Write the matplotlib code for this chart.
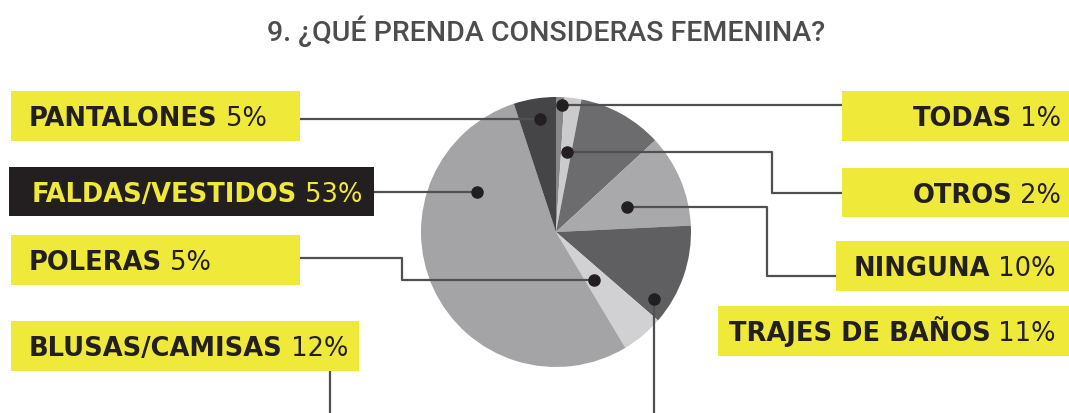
import matplotlib
matplotlib.use("Agg")
import matplotlib.pyplot as plt
import matplotlib.patches as mpatches

# data (clockwise from 12 o'clock)
categories = ["TODAS", "OTROS", "NINGUNA", "TRAJES DE BAÑOS",
              "BLUSAS/CAMISAS", "POLERAS", "FALDAS/VESTIDOS", "PANTALONES"]
values = [1, 2, 10, 11, 12, 5, 53, 5]
slice_colors = ["#88888a", "#cbcbcd", "#6c6c6e", "#a9a9ab",
                "#5f5f61", "#d1d1d3", "#a4a4a6", "#454547"]
title = "9. ¿QUÉ PRENDA CONSIDERAS FEMENINA?"

# layout: label boxes (x0, y0, x1, y1), text anchor x, side
boxes = {
    "PANTALONES":      ((11, 92, 300, 142), 29, "left"),
    "FALDAS/VESTIDOS": ((9, 168, 374, 217), 32, "left"),
    "POLERAS":         ((11, 236, 300, 286), 29, "left"),
    "BLUSAS/CAMISAS":  ((11, 322, 359, 372), 29, "left"),
    "TODAS":           ((842, 92, 1069, 142), 1061, "right"),
    "OTROS":           ((842, 169, 1069, 218), 1061, "right"),
    "NINGUNA":         ((836, 242, 1069, 292), 1056, "right"),
    "TRAJES DE BAÑOS": ((718, 307, 1069, 357), 1056, "right"),
}
# leader lines (polyline points, dot at the last point or not)
leaders = [
    ([(300, 120), (540, 120)], True),
    ([(374, 193), (477, 193)], True),
    ([(300, 259), (402, 259), (402, 281), (594, 281)], True),
    ([(330, 372), (330, 414)], False),
    ([(842, 106), (562, 106)], True),
    ([(842, 194), (772, 194), (772, 153), (567, 153)], True),
    ([(836, 277), (767, 277), (767, 208), (627, 208)], True),
    ([(654, 414), (654, 300)], True),
]

YELLOW = "#efe93a"
DARK = "#231f20"
LINE = "#505050"
FS = 18.5

fig = plt.figure(figsize=(10.69, 4.14), dpi=100)
ax = fig.add_axes([0, 0, 1, 1])

ax.pie(values, colors=slice_colors, startangle=-90, counterclock=True,
       center=(556, 233), radius=135, frame=True,
       wedgeprops=dict(linewidth=0))

for pts, dot in leaders:
    xs = [p[0] for p in pts]
    ys = [p[1] for p in pts]
    ax.plot(xs, ys, color=LINE, lw=1.6, solid_capstyle="butt", zorder=3)
    if dot:
        ax.plot(xs[-1], ys[-1], "o", color=DARK, ms=8, zorder=4)

for name, val in zip(categories, values):
    (x0, y0, x1, y1), tx, side = boxes[name]
    black = name == "FALDAS/VESTIDOS"
    ax.add_patch(mpatches.Rectangle((x0, y0), x1 - x0, y1 - y0,
                                    facecolor=DARK if black else YELLOW,
                                    edgecolor="none", zorder=2))
    tc = YELLOW if black else DARK
    ty = (y0 + y1) / 2 + 9.5
    if side == "left":
        t = ax.text(tx, ty, name, ha="left", va="baseline", fontsize=FS,
                    fontweight="bold", color=tc, zorder=5)
        ax.annotate(" %d%%" % val, xy=(1, 0), xycoords=t, ha="left", va="bottom",
                    fontsize=FS, color=tc, zorder=5)
    else:
        t = ax.text(tx, ty, " %d%%" % val, ha="right", va="baseline", fontsize=FS,
                    color=tc, zorder=5)
        ax.annotate(name, xy=(0, 0), xycoords=t, ha="right", va="bottom",
                    fontsize=FS, fontweight="bold", color=tc, zorder=5)

ax.text(546, 41, title, ha="center", va="baseline", fontsize=20.5,
        family="Roboto", fontweight="medium", color="#4d4d4f")

ax.set_xlim(0, 1069)
ax.set_ylim(414, 0)
ax.axis("off")

fig.savefig("out.png", dpi=100)
